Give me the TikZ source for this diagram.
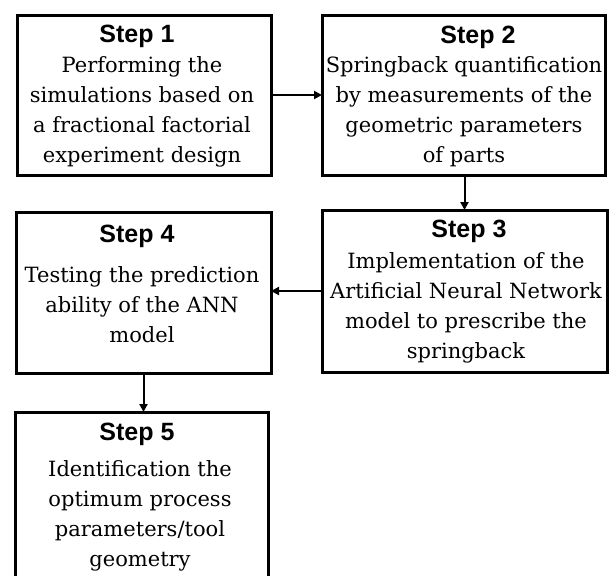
\documentclass[tikz,border=0pt]{standalone}
\usepackage{fontspec}
\setmainfont{DejaVu Serif}
\newfontfamily\hdfont{Liberation Sans}
\usetikzlibrary{arrows.meta}
\begin{document}
\begin{tikzpicture}[x=1pt,y=-1pt,
  box/.style={draw=black, line width=3pt, anchor=north west, inner sep=0pt, outer sep=0pt},
  head/.style={font=\hdfont\bfseries\fontsize{25}{30}\selectfont, anchor=base, inner sep=0pt},
  body/.style={font=\fontsize{21}{30}\selectfont, anchor=base, inner sep=0pt},
  arr/.style={line width=2pt, -{Triangle[length=8pt,width=8pt]}}]
\useasboundingbox (0,0) rectangle (614,576);
\clip (0,0) rectangle (614,576);
\fill[white] (0,0) rectangle (614,576);
% boxes
\node[box, minimum width=254pt, minimum height=160pt] (b1) at (17,15) {};
\node[box, minimum width=283pt, minimum height=160pt] (b2) at (322,15) {};
\node[box, minimum width=285pt, minimum height=162pt] (b3) at (322,210) {};
\node[box, minimum width=255pt, minimum height=161pt] (b4) at (16,212) {};
\node[box, minimum width=253pt, minimum height=190pt] (b5) at (15,412) {};
% headers
\node[head] (h1) at (137,42) {Step 1};
\node[head] (h2) at (478,43) {Step 2};
\node[head] (h3) at (469,237) {Step 3};
\node[head] (h4) at (137,242) {Step 4};
\node[head] (h5) at (137,440) {Step 5};
% bodies
\node[body] (t1) at (142,72) {\parbox[t]{250pt}{\centering Performing the\\simulations based on\\a fractional factorial\\experiment design}};
\node[body] (t2) at (464,72) {\parbox[t]{280pt}{\centering Springback quantification\\by measurements of the\\geometric parameters\\of parts}};
\node[body] (t3) at (466,268) {\parbox[t]{282pt}{\centering Implementation of the\\Artificial Neural Network\\model to prescribe the\\springback}};
\node[body] (t4) at (142,282) {\parbox[t]{250pt}{\centering Testing the prediction\\ability of the ANN\\model}};
\node[body] (t5) at (140,476) {\parbox[t]{250pt}{\centering Identification the\\optimum process\\parameters/tool\\geometry}};
% connectors
\draw[arr] (b1.east) -- (b2.west);
\draw[arr] (b3.north |- b2.south) -- (b3.north);
\draw[arr] (b3.west) -- (b4.east |- b3.west);
\draw[arr] (b4.south) -- (b4.south |- b5.north);
\end{tikzpicture}
\end{document}
